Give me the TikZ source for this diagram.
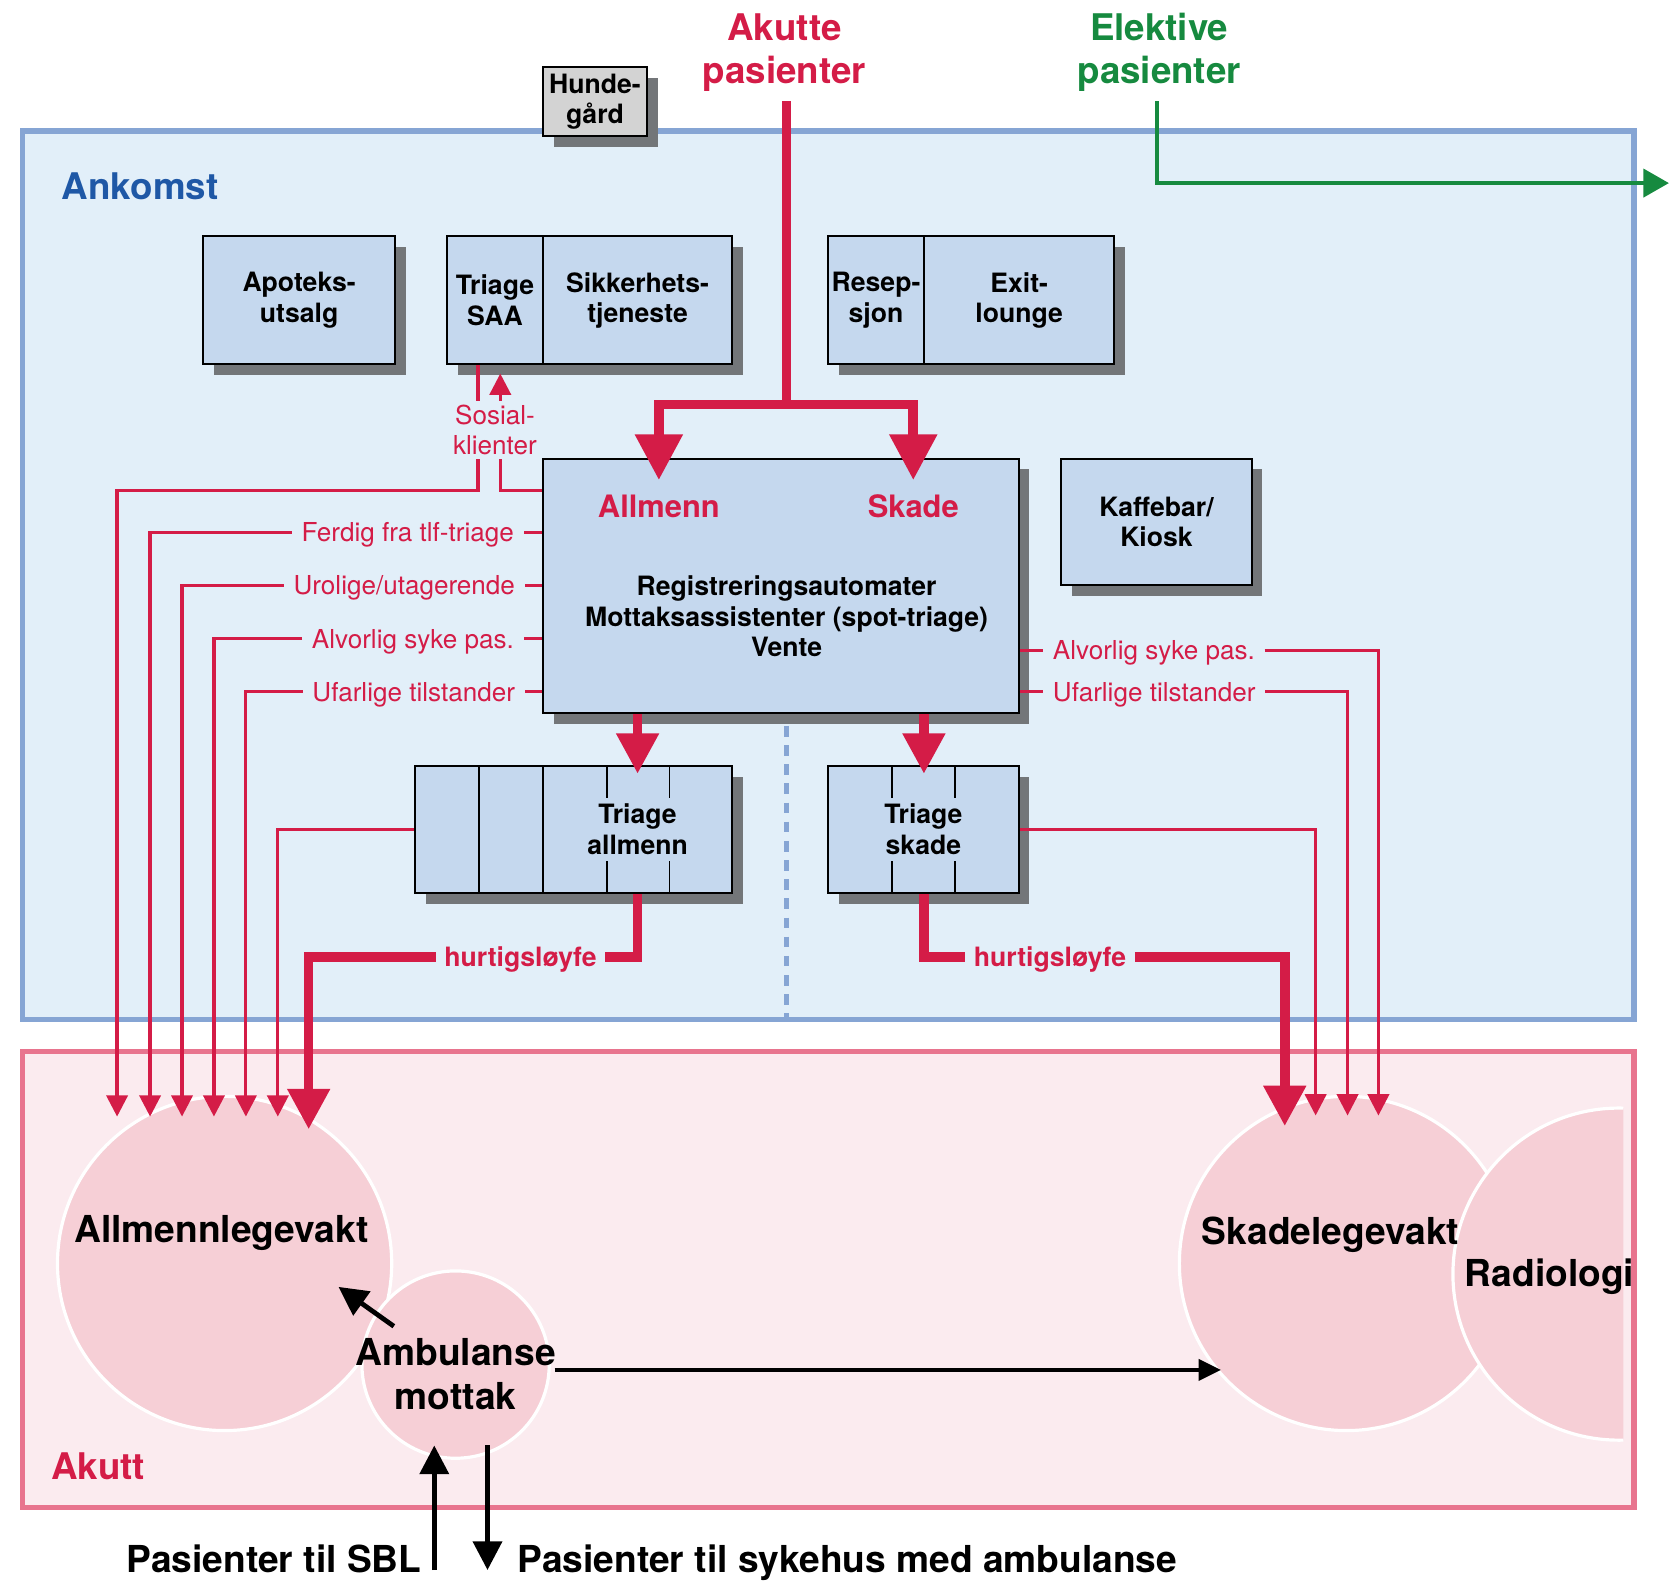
\documentclass[tikz,border=0pt]{standalone}
\usepackage{fontspec}
\setmainfont{TeX Gyre Heros}
\usetikzlibrary{arrows.meta,shadows,calc}
\definecolor{ared}{HTML}{D41C47}
\definecolor{agreen}{HTML}{168A3F}
\definecolor{ablue}{HTML}{1F58A6}
\definecolor{ankfill}{HTML}{E2EFF9}
\definecolor{ankdraw}{HTML}{86A5D4}
\definecolor{akfill}{HTML}{FBEBEF}
\definecolor{akdraw}{HTML}{E8748E}
\definecolor{circfill}{HTML}{F6CFD6}
\definecolor{boxfill}{HTML}{C5D8EE}
\definecolor{shadowgray}{HTML}{737679}
\definecolor{hundefill}{HTML}{D3D3D3}
\tikzset{
  region/.style={rectangle, line width=5pt, inner sep=0pt},
  boxnode/.style={draw=black, line width=1.8pt, fill=boxfill, rectangle, inner sep=0pt, align=center,
    font=\fontsize{25}{28.5}\selectfont\bfseries,
    drop shadow={fill=shadowgray, opacity=1, shadow xshift=10pt, shadow yshift=-10pt}},
  divider/.style={draw=black, line width=1.8pt},
  titletxt/.style={inner sep=0pt, font=\fontsize{34.5}{40.5}\selectfont\bfseries},
  bigtxt/.style={inner sep=0pt, font=\fontsize{34.9}{41}\selectfont\bfseries},
  boxtxt/.style={inner sep=0pt, align=center, font=\fontsize{25}{28.5}\selectfont\bfseries},
  redhead/.style={inner sep=0pt, text=ared, font=\fontsize{29}{34}\selectfont\bfseries},
  lbl/.style={text=ared, font=\fontsize{24.5}{28}\selectfont, inner xsep=9pt, inner ysep=0pt,
    text height=17.6pt, text depth=0pt},
  sosial/.style={text=ared, font=\fontsize{24.5}{28}\selectfont, inner xsep=0pt, inner ysep=4pt, align=center},
  hurtig/.style={text=ared, font=\fontsize{25}{28}\selectfont\bfseries, inner xsep=8pt, inner ysep=0pt,
    text height=18pt, text depth=0pt},
  redthin/.style={draw=ared, line width=3pt},
  redthick/.style={draw=ared, line width=9pt},
  thinarrow/.style={redthin, -{Triangle[length=20pt,width=20pt]}},
  thickarrow/.style={redthick, -{Triangle[length=38pt,width=38pt]}},
  bigarrow/.style={redthick, -{Triangle[length=43pt,width=43pt]}},
  greenarrow/.style={draw=agreen, line width=4.5pt, -{Triangle[length=24pt,width=26pt]}},
  dashblue/.style={draw=ankdraw, line width=4pt, dash pattern=on 10pt off 8pt},
  circ/.style={circle, fill=circfill, draw=white, line width=3pt, inner sep=0pt},
  blackarrow/.style={draw=black, line width=4.5pt, -{Triangle[length=27pt,width=27pt]}},
  blackthin/.style={draw=black, line width=3pt, -{Triangle[length=21pt,width=20pt]}}
}
\begin{document}
\begin{tikzpicture}[x=1pt,y=-1pt]
\useasboundingbox (0,0) rectangle (1568,1485);
\fill[white] (0,0) rectangle (1568,1485);

% ---------- regions ----------
\node[region, draw=ankdraw, fill=ankfill, minimum width=1514pt, minimum height=835pt] (ankomst) at (778,540.5) {};
\node[region, draw=akdraw, fill=akfill, minimum width=1514pt, minimum height=428pt] (akutt) at (778,1202) {};
\node[titletxt, text=ablue, anchor=base west] (ankomstlbl) at (58,187) {Ankomst};
\node[titletxt, text=ared, anchor=base west] (akuttlbl) at (48,1390) {Akutt};

% ---------- top labels ----------
\node[titletxt, text=ared, align=center] (akutte) at (737,49.5) {Akutte\\pasienter};
\node[titletxt, text=agreen, align=center] (elektive) at (1089,49.5) {Elektive\\pasienter};
\coordinate (elstart) at (1087,95);
\coordinate (elend) at (1568,172);
\draw[greenarrow] (elstart) |- (elend);

\node[boxnode, fill=hundefill, minimum width=98pt, minimum height=65pt] (hunde) at (559,95.5) {Hunde-\\gård};

% ---------- dashed divider ----------
\coordinate (dashtop) at (739,682);
\coordinate (dashbot) at (739,956);
\draw[dashblue] (dashtop) -- (dashbot);

% ---------- boxes ----------
\node[boxnode, minimum width=180pt, minimum height=120pt] (apotek) at (281,282) {Apoteks-\\utsalg};
\node[boxnode, minimum width=90pt, minimum height=120pt] (triagesaa) at (465,282) {Triage\\SAA};
\node[boxnode, minimum width=178pt, minimum height=120pt] (sikk) at (599,282) {Sikkerhets-\\tjeneste};
\node[boxnode, minimum width=90pt, minimum height=120pt] (resep) at (823,282) {Resep-\\sjon};
\node[boxnode, minimum width=179pt, minimum height=120pt] (exit) at (957.5,282) {Exit-\\lounge};
\node[boxnode, minimum width=179pt, minimum height=119pt] (kaffe) at (1086.5,490.5) {Kaffebar/\\Kiosk};

\node[boxnode, minimum width=447pt, minimum height=239pt] (main) at (733.5,550.5) {};
\node[redhead, anchor=base] (allmlbl) at (619,486) {Allmenn};
\node[redhead, anchor=base] (skadelbl) at (858,486) {Skade};
\node[boxtxt] (maintxt) at (739,579) {Registreringsautomater\\Mottaksassistenter (spot-triage)\\Vente};

\node[boxnode, minimum width=298pt, minimum height=119pt] (tallm) at (539,779.5) {};
\draw[divider] (450,720) -- (450,839);
\draw[divider] (510,720) -- (510,839);
\draw[divider] (570,720) -- (570,750);
\draw[divider] (570,809) -- (570,839);
\draw[divider] (629,720) -- (629,750);
\draw[divider] (629,809) -- (629,839);
\node[boxtxt] (tallmtxt) at (599,779) {Triage\\allmenn};

\node[boxnode, minimum width=179pt, minimum height=119pt] (tskade) at (867.5,779.5) {};
\draw[divider] (838,720) -- (838,750);
\draw[divider] (838,809) -- (838,839);
\draw[divider] (897,720) -- (897,750);
\draw[divider] (897,809) -- (897,839);
\node[boxtxt] (tskadetxt) at (867.5,779) {Triage\\skade};

% ---------- circles ----------
\node[circ, minimum size=314pt] (allmc) at (211,1187) {};
\node[circ, minimum size=176pt] (ambc) at (428,1282) {};
\node[circ, minimum size=314pt] (skadec) at (1265,1187) {};
\begin{scope}
  \clip (1300,1000) rectangle (1525,1400);
  \node[circ, minimum size=312pt] (radc) at (1521,1197) {};
\end{scope}
\node[bigtxt, anchor=base] (allmtxt) at (208,1167) {Allmennlegevakt};
\node[bigtxt, anchor=base] (skadetxt) at (1250,1169) {Skadelegevakt};
\node[bigtxt, anchor=base west] (radtxt) at (1376,1209) {Radiologi};
\node[bigtxt, align=center] (ambtxt) at (428,1291) {Ambulanse\\mottak};

% ---------- Akutte flow ----------
\coordinate (akstart) at (739,95);
\coordinate (aksplit) at (739,380);
\coordinate (akL) at (619,451);
\coordinate (akR) at (858,451);
\draw[redthick] (akstart) -- (aksplit);
\draw[bigarrow] (aksplit) -| (akL);
\draw[bigarrow] (aksplit) -| (akR);

\draw[thickarrow] (599,0 |- main.south) -- (599,727);
\draw[thickarrow] (868,0 |- main.south) -- (868,727);

% ---------- tip coordinates ----------
\coordinate (tL1) at (110,1049);
\coordinate (tL2) at (141,1049);
\coordinate (tL3) at (171,1049);
\coordinate (tL4) at (201,1049);
\coordinate (tL5) at (231,1049);
\coordinate (tL6) at (261,1049);
\coordinate (tL7) at (290,1061);
\coordinate (tR1) at (1207,1058);
\coordinate (tR2) at (1236,1048);
\coordinate (tR3) at (1266,1048);
\coordinate (tR4) at (1295,1048);

% ---------- Sosial-klienter ----------
\node[sosial] (sos) at (465,404) {Sosial-\\klienter};
\draw[redthin] (449,0 |- triagesaa.south) -- (449,0 |- sos.north);
\draw[thinarrow] (470,0 |- sos.north) -- (470,351);
\draw[thinarrow] (449,0 |- sos.south) |- (110,461) -- (tL1);
\draw[redthin] (470,0 |- sos.south) |- (main.west |- 0,461);

% ---------- left labels ----------
\node[lbl, anchor=east] (lF) at (492,500) {Ferdig fra tlf-triage};
\node[lbl, anchor=east] (lU) at (493,550) {Urolige/utagerende};
\node[lbl, anchor=east] (lA) at (492,600) {Alvorlig syke pas.};
\node[lbl, anchor=east] (lUf) at (493,650) {Ufarlige tilstander};
\draw[redthin] (main.west |- lF.east) -- (lF.east);
\draw[redthin] (main.west |- lU.east) -- (lU.east);
\draw[redthin] (main.west |- lA.east) -- (lA.east);
\draw[redthin] (main.west |- lUf.east) -- (lUf.east);
\draw[thinarrow] (lF.west) -| (tL2);
\draw[thinarrow] (lU.west) -| (tL3);
\draw[thinarrow] (lA.west) -| (tL4);
\draw[thinarrow] (lUf.west) -| (tL5);
\draw[thinarrow] (tallm.west) -| (tL6);

% ---------- right labels ----------
\node[lbl, anchor=west] (rA) at (980,611) {Alvorlig syke pas.};
\node[lbl, anchor=west] (rUf) at (980,650) {Ufarlige tilstander};
\draw[redthin] (main.east |- rA.west) -- (rA.west);
\draw[redthin] (main.east |- rUf.west) -- (rUf.west);
\draw[thinarrow] (rA.east) -| (tR4);
\draw[thinarrow] (rUf.east) -| (tR3);
\draw[thinarrow] (tskade.east) -| (tR2);

% ---------- hurtigsloyfe ----------
\node[hurtig] (hL) at (489,899) {hurtigsløyfe};
\node[hurtig] (hR) at (986.5,899) {hurtigsløyfe};
\draw[redthick] (599,0 |- tallm.south) |- (hL.east);
\draw[thickarrow] (hL.west) -| (tL7);
\draw[redthick] (868,0 |- tskade.south) |- (hR.west);
\draw[thickarrow] (hR.east) -| (tR1);

% ---------- black arrows ----------
\coordinate (ambA) at (370,1246);
\coordinate (ambAtip) at (318,1209);
\draw[blackarrow] (ambA) -- (ambAtip);
\coordinate (ambB) at (521,1287);
\coordinate (ambBtip) at (1147,1287);
\draw[blackthin] (ambB) -- (ambBtip);
\coordinate (sblbot) at (408,1475);
\coordinate (sbltip) at (408,1358);
\draw[blackarrow] (sblbot) -- (sbltip);
\coordinate (shtop) at (458,1358);
\coordinate (shtip) at (458,1475);
\draw[blackarrow] (shtop) -- (shtip);
\node[bigtxt, anchor=base east] (sbl) at (396,1477) {Pasienter til SBL};
\node[bigtxt, anchor=base west] (shus) at (486,1477) {Pasienter til sykehus med ambulanse};
\end{tikzpicture}
\end{document}
